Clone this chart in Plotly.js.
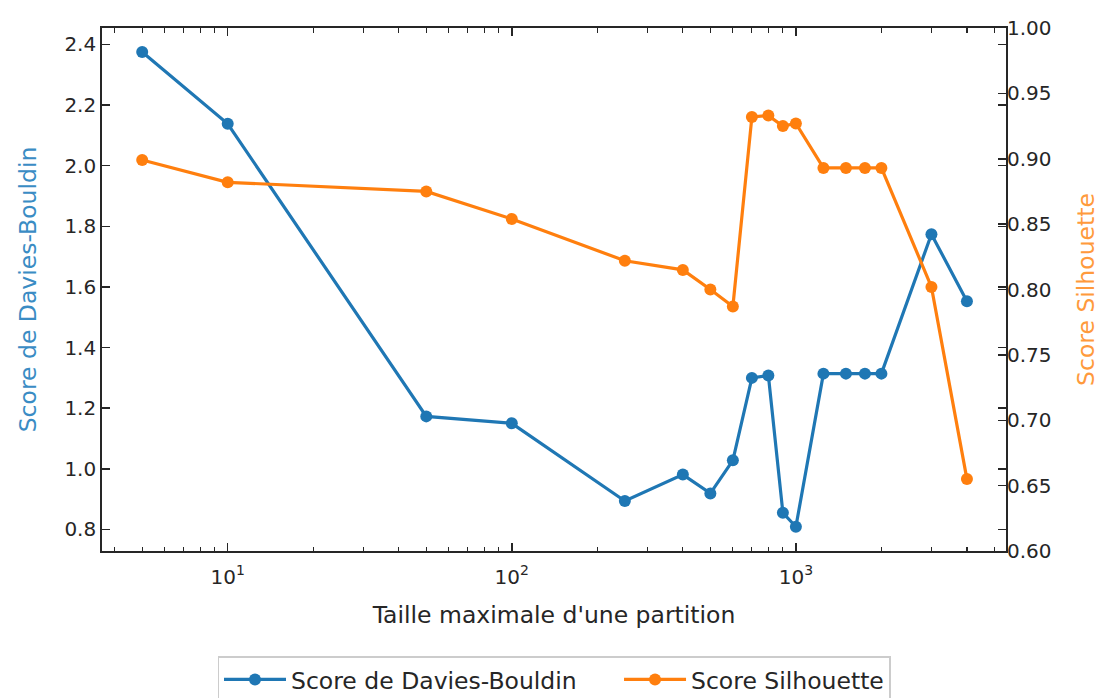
<!DOCTYPE html>
<html><head><meta charset="utf-8">
<script src="https://cdn.plot.ly/plotly-3.0.1.min.js"></script>
<style>html,body{margin:0;padding:0;background:#fff}#chart{width:1100px;height:698px}</style>
</head><body><div id="chart"></div>
<script>
const partitionSizes = [5, 10, 50, 100, 250, 400, 500, 600, 700, 800, 900, 1000, 1250, 1500, 1750, 2000, 3000, 4000];
const daviesBouldin = [2.375, 2.138, 1.173, 1.15, 0.894, 0.981, 0.919, 1.028, 1.300, 1.308, 0.855, 0.809, 1.314, 1.314, 1.314, 1.314, 1.774, 1.553];
const silhouette = [0.899, 0.882, 0.875, 0.854, 0.822, 0.815, 0.800, 0.787, 0.932, 0.933, 0.925, 0.927, 0.893, 0.893, 0.893, 0.893, 0.802, 0.655];
const seriesNames = ['Score de Davies-Bouldin', 'Score Silhouette'];
const xTickVals = [10, 100, 1000];
const xTickText = ['10<sup>1</sup>', '10<sup>2</sup>', '10<sup>3</sup>'];
const minorVals = [];
[1, 10, 100, 1000].forEach(d => { for (let k = 2; k <= 9; k++) minorVals.push(k * d); });

const fam = 'DejaVu Sans, sans-serif';
const dark = '#262626';
const blue = '#1f77b4', orange = '#ff7f0e';
const xRange = [Math.log10(3.61), Math.log10(5490)];
const pad = '\u00a0\u00a0\u00a0\u00a0\u00a0';

const traces = [
  {x: partitionSizes, y: daviesBouldin, name: seriesNames[0] + pad, type: 'scatter', mode: 'lines+markers',
   line: {color: blue, width: 3.2}, marker: {color: blue, size: 12}, yaxis: 'y'},
  {x: partitionSizes, y: silhouette, name: seriesNames[1], type: 'scatter', mode: 'lines+markers',
   line: {color: orange, width: 3.2}, marker: {color: orange, size: 12}, yaxis: 'y2'}
];

const tickStyle = {ticks: 'inside', ticklen: 8, tickwidth: 1.5, tickcolor: dark};
const minorStyle = {tickmode: 'array', tickvals: minorVals, ticks: 'inside', ticklen: 4.5, tickwidth: 1.2, tickcolor: dark, showgrid: false};

const layout = {
  width: 1100, height: 698,
  margin: {l: 102, r: 94, t: 28, b: 147},
  paper_bgcolor: '#fff', plot_bgcolor: '#fff',
  font: {family: fam, size: 20, color: dark},
  showlegend: true,
  legend: {orientation: 'h', x: 0.5, xanchor: 'center', xref: 'paper',
           y: 0.06, yanchor: 'top', yref: 'container',
           bordercolor: '#cccccc', borderwidth: 1.5, font: {family: fam, size: 23.5, color: dark},
           itemwidth: 62},
  xaxis: Object.assign({
    type: 'log', range: xRange,
    tickmode: 'array', tickvals: xTickVals, ticktext: xTickText,
    minor: minorStyle, ticklabelstandoff: 7,
    showline: true, linecolor: dark, linewidth: 1.8, mirror: 'ticks',
    showgrid: false, zeroline: false, automargin: false,
    title: {text: "Taille maximale d'une partition", font: {family: fam, size: 23.5, color: dark}, standoff: 19}
  }, tickStyle),
  xaxis2: Object.assign({
    type: 'log', range: xRange, overlaying: 'x', side: 'top', anchor: 'y',
    tickmode: 'array', tickvals: xTickVals, showticklabels: false,
    minor: minorStyle, showline: false, showgrid: false, zeroline: false
  }, tickStyle),
  yaxis: Object.assign({
    range: [0.729, 2.454], tickmode: 'linear', tick0: 0.8, dtick: 0.2, tickformat: '.1f',
    showline: true, linecolor: dark, linewidth: 1.8, mirror: 'ticks',
    showgrid: false, zeroline: false, automargin: false,
    title: {text: 'Score de Davies-Bouldin', font: {family: fam, size: 23.5, color: '#3a8cc4'}, standoff: 21}
  }, tickStyle),
  yaxis2: Object.assign({
    overlaying: 'y', side: 'right',
    range: [0.6, 1.0], tickmode: 'linear', tick0: 0.6, dtick: 0.05, tickformat: '.2f',
    showline: false, showgrid: false, zeroline: false, automargin: false,
    title: {text: 'Score Silhouette', font: {family: fam, size: 23.5, color: '#ff9a3c'}, standoff: 29}
  }, tickStyle)
};

Plotly.newPlot('chart', traces, layout, {displayModeBar: false, staticPlot: true});
</script></body></html>
